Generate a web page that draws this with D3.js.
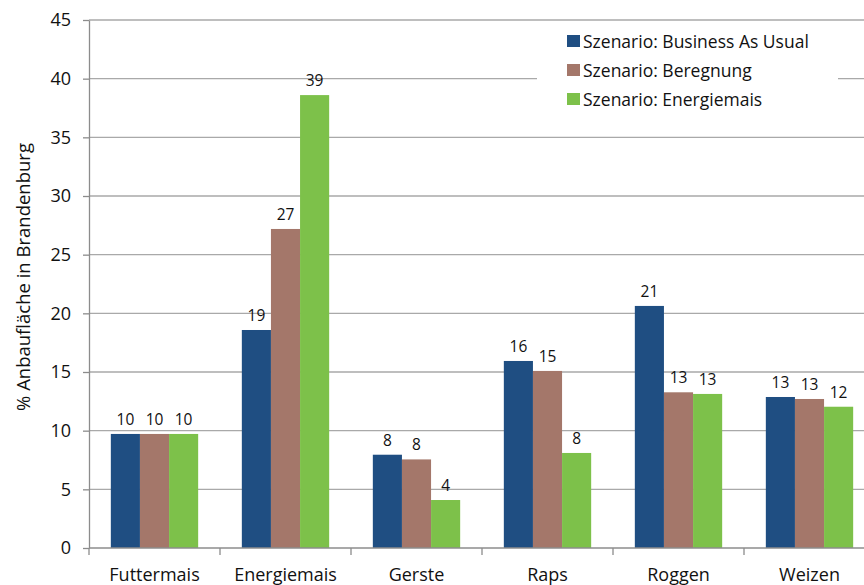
<!DOCTYPE html>
<html>
<head>
<meta charset="utf-8">
<script src="https://cdn.jsdelivr.net/npm/d3@7"></script>
<style>
  html, body { margin: 0; padding: 0; background: #fff; }
  svg { display: block; font-family: "Open Sans", "Noto Sans", sans-serif; }
</style>
</head>
<body>
<svg id="chart" width="864" height="585"></svg>
<script>
// Crop categories and scenario series (% of arable land in Brandenburg)
const categories = ["Futtermais", "Energiemais", "Gerste", "Raps", "Roggen", "Weizen"];
const seriesNames = ["Szenario: Business As Usual", "Szenario: Beregnung", "Szenario: Energiemais"];
const businessAsUsual = [9.72, 18.58, 7.95, 15.94, 20.63, 12.87];
const beregnung       = [9.72, 27.19, 7.55, 15.09, 13.27, 12.70];
const energiemais     = [9.72, 38.60, 4.09,  8.10, 13.13, 12.04];
const yTicks = [0, 5, 10, 15, 20, 25, 30, 35, 40, 45];
const colors = ["#1f4e82", "#a4776a", "#7dc14a"];

const series = [businessAsUsual, beregnung, energiemais];

const svg = d3.select("#chart");
const margin = { left: 89, top: 20, bottom: 37 };
const H = 585;
const step = 131;

const y = d3.scaleLinear().domain([0, 45]).range([H - margin.bottom, margin.top]);
const x0 = d3.scaleBand().domain(categories)
  .range([margin.left, margin.left + step * categories.length])
  .paddingInner(0).paddingOuter(0);
const x1 = d3.scaleBand().domain(d3.range(series.length))
  .range([0, x0.bandwidth()])
  .paddingInner(0).paddingOuter(0.75);

// Horizontal gridlines
svg.append("g")
  .selectAll("line")
  .data(yTicks.filter(t => t > 0))
  .join("line")
  .attr("x1", margin.left).attr("x2", 864)
  .attr("y1", d => y(d)).attr("y2", d => y(d))
  .attr("stroke", "#a9a9a9").attr("stroke-width", 1.3);

// Y axis
const yAxis = svg.append("g")
  .attr("transform", `translate(${margin.left},0)`)
  .call(d3.axisLeft(y).tickValues(yTicks).tickSize(6).tickPadding(12).tickSizeOuter(0));
yAxis.select(".domain").attr("stroke", "#8c8c8c").attr("stroke-width", 1.3);
yAxis.selectAll(".tick line").attr("stroke", "#8c8c8c").attr("stroke-width", 1.3);
yAxis.selectAll(".tick text").attr("font-size", 18).attr("fill", "#111")
  .attr("font-family", "'Open Sans', sans-serif");

// Bars
const groups = svg.append("g")
  .selectAll("g")
  .data(categories)
  .join("g")
  .attr("transform", d => `translate(${x0(d)},0)`);

groups.selectAll("rect")
  .data((d, i) => series.map((s, k) => ({ k, v: s[i] })))
  .join("rect")
  .attr("x", d => x1(d.k))
  .attr("width", x1.bandwidth())
  .attr("y", d => y(d.v))
  .attr("height", d => y(0) - y(d.v))
  .attr("fill", d => colors[d.k]);

// Value labels
const fmt = d3.format(".0f");
groups.selectAll("text")
  .data((d, i) => series.map((s, k) => ({ k, v: s[i] })))
  .join("text")
  .attr("x", d => x1(d.k) + x1.bandwidth() / 2)
  .attr("y", d => y(d.v) - 9)
  .attr("text-anchor", "middle")
  .attr("font-size", 15.5)
  .attr("fill", "#111")
  .text(d => fmt(d.v));

// X axis baseline and category ticks
const xAxis = svg.append("g")
  .attr("transform", `translate(0,${y(0)})`)
  .call(d3.axisBottom(x0).tickSize(0).tickPadding(20));
xAxis.select(".domain").remove();
xAxis.append("line")
  .attr("x1", margin.left).attr("x2", 864)
  .attr("stroke", "#8c8c8c").attr("stroke-width", 1.3);
xAxis.selectAll(".sep")
  .data(categories)
  .join("line")
  .attr("class", "sep")
  .attr("x1", d => x0(d)).attr("x2", d => x0(d))
  .attr("y1", 0).attr("y2", 7)
  .attr("stroke", "#8c8c8c").attr("stroke-width", 1.3);
xAxis.selectAll(".tick text").attr("font-size", 18).attr("fill", "#111")
  .attr("font-family", "'Open Sans', sans-serif");

// Y axis title
svg.append("text")
  .attr("transform", `translate(30,277) rotate(-90)`)
  .attr("text-anchor", "middle")
  .attr("font-size", 18.5)
  .attr("fill", "#111")
  .text("% Anbaufläche in Brandenburg");

// Legend
const legend = svg.append("g").attr("transform", "translate(537,26)");
legend.append("rect").attr("width", 301).attr("height", 88).attr("fill", "#fff");
const li = legend.selectAll("g.item")
  .data(seriesNames)
  .join("g")
  .attr("class", "item")
  .attr("transform", (d, i) => `translate(30,${9 + i * 29})`);
li.append("rect").attr("width", 13).attr("height", 12).attr("fill", (d, i) => colors[i]);
li.append("text")
  .attr("x", 16).attr("y", 12.5)
  .attr("font-size", 17.5)
  .attr("fill", "#111")
  .text(d => d);
</script>
</body>
</html>
